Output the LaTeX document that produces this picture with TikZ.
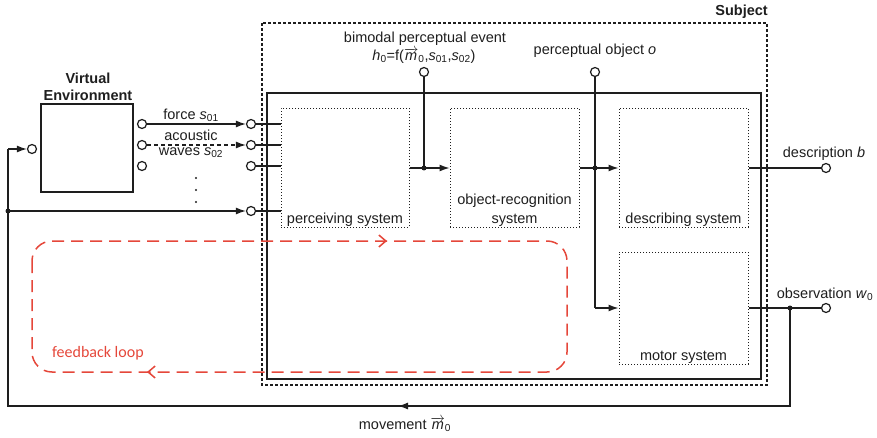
\documentclass[tikz,border=0pt]{standalone}
\usepackage{fontspec}
\setmainfont{Liberation Sans}
\newfontfamily\loopfont{Carlito}
\usetikzlibrary{arrows.meta}
\definecolor{ink}{HTML}{1E1E1E}
\definecolor{loopred}{HTML}{E5473A}
\newcommand{\vm}{$\overrightarrow{\mbox{\itshape m}}$\textsubscript{0}}
\begin{document}
\begin{tikzpicture}[x=1pt,y=-1pt,
  font=\fontsize{14.5}{17}\selectfont, text=ink,
  wire/.style={draw=ink,line width=1.3pt},
  arr/.style={-{Latex[length=10pt,width=7pt]}},
  port/.style={circle,draw=ink,fill=white,line width=1.2pt,inner sep=0pt,minimum size=9pt},
  jdot/.style={circle,fill=ink,inner sep=0pt,minimum size=5pt},
  edot/.style={circle,fill=ink,inner sep=0pt,minimum size=2.4pt},
  sysbox/.style={draw=ink,dotted,line width=1pt,inner sep=0pt},
  boxlabel/.style={anchor=south,inner sep=1pt},
  title/.style={font=\fontsize{14.5}{17}\selectfont\bfseries},
  loopline/.style={draw=loopred,line width=1.5pt,dash pattern=on 12pt off 7pt}
]
\useasboundingbox (0,0) rectangle (877,438);

% subject boundary and its inner frame
\draw[ink,line width=2.6pt,dash pattern=on 2.6pt off 2.4pt] (262,23) rectangle (767,385);
\node[title,anchor=south east,inner sep=0pt] (subj) at (768,19) {Subject};
\draw[ink,line width=1.5pt] (267,93) rectangle (761,379);

% virtual environment
\node[draw=ink,line width=1.3pt,minimum width=92pt,minimum height=88pt,inner sep=0pt] (ve) at (87,148) {};
\node[title,align=center,anchor=south,inner sep=0pt] (vetitle) at (88,101) {Virtual\\Environment};
\node[port] (veIn) at (32,149) {};
\node[port] (veOut1) at (142,124) {};
\node[port] (veOut2) at (142,145) {};
\node[port] (veOut3) at (142,166) {};

% subject input ports
\node[port] (in1) at (251,124) {};
\node[port] (in2) at (251,145) {};
\node[port] (in3) at (251,166) {};
\node[port] (in4) at (251,211) {};

% subsystems
\node[sysbox,minimum width=128pt,minimum height=119pt] (perc) at (345,168) {};
\node[boxlabel] at (perc.south) {perceiving system};
\node[sysbox,minimum width=129pt,minimum height=119pt] (objrec) at (514.5,168) {};
\node[boxlabel,align=center,font=\fontsize{14.5}{19}\selectfont] at (objrec.south) {object-recognition\\system};
\node[sysbox,minimum width=129pt,minimum height=119pt] (desc) at (683.5,168) {};
\node[boxlabel] at (desc.south) {describing system};
\node[sysbox,minimum width=129pt,minimum height=112pt] (motor) at (683.5,308) {};
\node[boxlabel] at (motor.south) {motor system};

% output ports
\node[port] (hport) at (424,72) {};
\node[port] (oport) at (595,72) {};
\node[port] (bport) at (826,168) {};
\node[port] (wport) at (826,308) {};

% junctions and corners
\coordinate (jH) at (424,168);
\coordinate (jO) at (595,168);
\coordinate (jOm) at (595,308);
\coordinate (jW) at (790,308);
\coordinate (jL) at (8,211);
\coordinate (cBR) at (790,406);
\coordinate (cBL) at (8,406);
\coordinate (cTL) at (8,149);
\coordinate (mArr) at (398,406);

% labels
\node[anchor=south,inner sep=0pt] (hlab1) at (425,46) {bimodal perceptual event};
\node[anchor=south,inner sep=0pt] (hlab2) at (424,64) {\textit{h}\textsubscript{0}=f(\vm,\textit{s}\textsubscript{01},\textit{s}\textsubscript{02})};
\node[anchor=south,inner sep=0pt] (olab) at (595,58) {perceptual object \textit{o}};
\node[anchor=south,inner sep=0pt] (blab) at (824,161) {description \textit{b}};
\node[anchor=south,inner sep=0pt] (wlab) at (825,301) {observation \textit{w}\textsubscript{0}};
\node[anchor=north,inner sep=0pt] (mlab) at (405,417) {movement \vm};
\node[anchor=south,inner sep=0pt] (flab) at (191,122) {force \textit{s}\textsubscript{01}};
\node[anchor=south,inner sep=0pt] (alab) at (191,141) {acoustic};
\node[anchor=north,inner sep=0pt] (wvlab) at (191,147) {waves \textit{s}\textsubscript{02}};
\node[edot] (d1) at (196,178) {};
\node[edot] (d2) at (196,190) {};
\node[edot] (d3) at (196,202) {};

% signals into the subject
\draw[wire,arr] (veOut1) -- (in1);
\draw[wire,arr,dash pattern=on 4pt off 3pt] (veOut2) -- (in2);
\draw[wire] (in1) -- (in1 -| perc.west);
\draw[wire] (in2) -- (in2 -| perc.west);
\draw[wire] (in3) -- (in3 -| perc.west);
\draw[wire] (in4) -- (in4 -| perc.west);
\draw[wire,arr] (jL) -- (in4);

% internal chain
\draw[wire] (perc.east) -- (jH);
\draw[wire,arr] (jH) -- (objrec.west);
\draw[wire] (hport) -- (jH);
\draw[wire] (objrec.east) -- (jO);
\draw[wire,arr] (jO) -- (desc.west);
\draw[wire] (oport) -- (jOm);
\draw[wire,arr] (jOm) -- (motor.west);
\draw[wire] (desc.east) -- (bport);
\draw[wire] (motor.east) -- (wport);

% movement feedback path
\draw[wire] (jW) -- (cBR) -- (cBL) -- (cTL);
\draw[wire,arr] (cTL) -- (veIn);
\draw[wire,arr] (cBR) -- (mArr);

\node[jdot] at (jH) {};
\node[jdot] at (jO) {};
\node[jdot] at (jW) {};
\node[jdot] at (jL) {};

% feedback loop
\draw[loopline,rounded corners=20pt] (32,241) rectangle (567,372);
\coordinate (fa1) at (384,241);
\coordinate (fa2) at (387,241);
\coordinate (fb1) at (150,372);
\coordinate (fb2) at (147,372);
\draw[draw=loopred,line width=1.5pt,-{Straight Barb[length=7pt,width=12pt]}] (fa1) -- (fa2);
\draw[draw=loopred,line width=1.5pt,-{Straight Barb[length=7pt,width=12pt]}] (fb1) -- (fb2);
\node[anchor=west,inner sep=0pt,text=loopred,font=\loopfont\fontsize{16}{19}\selectfont] (fl) at (52,353) {feedback loop};
\end{tikzpicture}
\end{document}
